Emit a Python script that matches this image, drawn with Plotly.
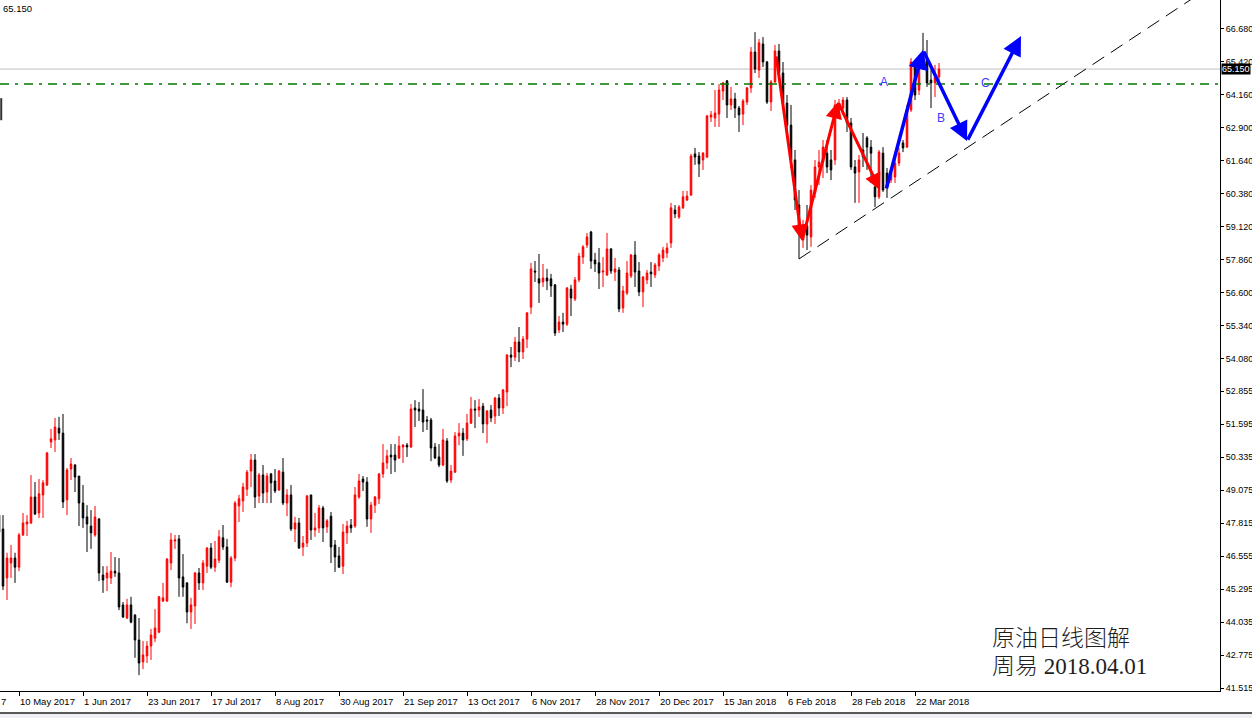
import pandas as pd
import plotly.graph_objects as go

# ---------------- data ----------------
dates = [d for d in pd.bdate_range("2017-05-03", "2018-03-30")
         if d.strftime("%m-%d") not in ("12-25", "01-01")]

opens = [48.12,47.59,45.72,46.29,46.48,46.13,47.36,47.78,47.82,48.81,48.20,48.89,49.27,50.91,50.99,51.44,51.25,48.70,49.88,50.03,
         49.61,48.58,48.05,47.70,47.36,47.97,45.83,45.72,45.72,45.98,45.91,44.69,44.19,44.69,44.30,43.35,42.51,42.74,43.12,43.42,
         43.65,44.84,44.84,46.29,47.13,47.21,45.76,45.53,44.42,44.65,45.91,45.53,46.17,46.86,46.13,46.40,47.25,46.90,45.56,46.48,
         48.47,48.66,49.11,49.80,50.22,48.85,49.65,49.00,49.69,49.42,49.08,49.76,48.58,48.89,47.59,47.82,46.90,47.05,48.89,47.55,
         47.63,48.39,47.67,48.08,46.98,46.56,46.17,47.44,47.74,47.70,48.81,49.50,49.38,47.97,48.50,48.74,49.69,50.11,50.41,50.41,
         50.30,50.72,50.79,50.72,52.21,52.17,52.13,51.75,51.75,50.72,50.34,50.03,50.95,49.46,49.76,51.14,51.25,51.03,51.63,52.17,
         52.13,52.28,51.60,52.13,51.90,52.59,52.21,52.82,54.23,54.15,54.73,54.35,54.84,56.06,57.44,57.14,57.02,57.17,57.14,56.91,
         55.19,55.49,55.41,56.75,56.37,57.10,57.97,58.43,58.93,57.86,57.75,57.40,57.29,58.28,57.40,57.48,56.03,56.60,57.25,58.05,
         57.44,56.64,57.10,57.40,57.29,57.63,57.94,58.13,58.51,59.77,59.50,59.85,60.15,60.34,61.91,61.83,61.68,61.79,63.32,63.28,
         63.43,64.31,64.70,63.78,64.01,63.66,63.43,63.89,64.43,65.80,65.11,66.11,65.42,63.89,64.66,65.84,65.00,63.85,63.01,61.68,
         59.96,58.62,59.16,58.74,60.42,61.41,61.60,61.94,61.68,61.68,63.59,63.66,63.97,63.09,61.41,61.22,62.06,62.52,62.17,60.65,
         60.27,61.94,61.18,60.91,61.03,61.56,62.33,62.17,63.59,65.38,64.35,65.69,65.50,64.73,64.62,64.85]
highs = [48.23,48.12,46.68,46.98,46.68,47.44,48.20,48.12,49.65,49.38,49.50,49.46,50.53,51.41,51.83,51.87,51.98,49.92,50.30,50.07,
         49.61,49.27,48.50,48.31,48.47,48.01,46.17,46.17,46.71,46.52,46.48,44.80,44.92,45.00,44.34,44.19,43.31,43.31,43.77,44.53,
         45.03,45.53,46.48,47.44,47.36,47.36,46.63,45.56,44.96,45.95,46.10,46.40,46.90,47.05,47.13,47.55,47.74,47.21,46.56,48.66,
         48.89,49.35,49.84,50.45,50.45,49.73,50.03,49.73,49.73,49.88,49.84,50.30,49.11,49.27,48.05,48.01,47.32,48.89,48.89,48.20,
         48.50,48.47,47.97,48.24,47.17,46.90,47.78,47.90,47.97,49.19,49.69,49.61,49.57,48.62,48.85,49.73,50.83,50.61,50.83,50.83,
         51.14,50.83,50.87,52.36,52.51,52.44,52.93,51.90,51.83,50.87,50.83,51.41,51.06,50.03,51.29,51.63,51.44,51.98,52.63,52.51,
         52.55,52.40,52.13,52.32,52.63,52.74,52.93,54.27,54.54,54.92,55.30,54.96,55.87,57.75,57.82,58.09,57.71,57.52,57.33,56.94,
         55.72,55.84,56.83,56.91,57.21,58.13,58.43,58.89,58.97,58.13,58.32,57.97,58.89,58.32,57.94,57.59,56.87,57.82,58.09,58.58,
         57.78,57.25,57.48,57.78,57.75,58.13,58.36,58.51,60.04,59.96,59.96,60.50,60.50,61.91,62.14,61.98,61.98,63.40,63.55,64.35,
         64.58,64.66,64.73,64.47,64.24,63.74,64.01,64.47,65.99,66.56,66.30,66.37,65.46,64.73,66.07,66.11,65.42,64.16,63.78,62.06,
         60.53,59.39,59.96,60.72,61.68,62.06,62.44,62.44,62.06,63.97,64.01,64.08,64.08,63.28,61.68,61.87,62.71,62.59,62.44,61.03,
         62.06,62.17,61.37,61.37,61.75,62.14,62.44,63.78,65.57,65.50,65.69,66.53,66.26,65.11,65.31,65.38]
lows = [47.36,45.26,44.88,45.72,45.53,45.98,47.32,47.32,47.78,48.12,48.01,48.01,49.23,50.68,50.53,50.99,48.39,48.12,49.46,49.00,
        47.70,47.63,46.71,46.83,47.29,45.60,45.15,45.22,45.49,45.76,44.49,44.19,44.15,43.99,42.67,42.01,42.24,42.47,42.59,43.27,
        43.61,44.80,44.80,46.02,46.83,45.00,45.00,43.99,43.77,43.96,45.26,45.26,45.91,46.06,45.95,46.29,46.79,45.53,45.37,46.36,
        47.86,48.24,48.85,49.19,48.39,48.58,48.58,48.58,48.58,48.96,49.04,48.50,48.08,47.51,47.09,46.83,46.56,46.90,47.17,47.29,
        47.44,47.09,47.44,46.29,45.95,46.10,45.87,47.02,47.44,47.63,48.74,49.04,47.67,47.44,48.20,48.54,49.54,49.88,49.69,49.76,
        50.26,50.11,50.34,50.68,51.48,51.71,51.29,51.37,50.18,50.26,49.95,49.99,49.35,49.35,49.73,50.79,50.38,50.95,51.60,51.44,
        51.87,51.25,50.87,51.67,51.60,51.90,51.98,52.28,53.77,54.00,53.96,54.08,54.50,55.80,57.02,56.22,56.83,56.71,56.45,54.96,
        55.07,55.11,55.34,55.72,56.29,57.02,57.71,58.32,57.52,57.40,56.75,56.83,57.25,57.33,57.06,55.87,55.84,56.52,57.17,56.83,
        56.48,56.06,56.94,56.83,57.17,57.44,57.78,57.94,58.32,59.46,59.43,59.81,60.11,60.30,61.49,61.03,61.30,61.75,63.13,62.94,
        62.94,63.97,63.28,63.59,63.28,62.75,63.01,63.78,64.24,65.00,64.81,65.23,63.82,63.55,64.62,64.81,63.59,62.82,61.37,59.77,
        57.90,58.32,58.24,58.36,60.23,60.72,60.99,61.18,60.91,61.49,63.28,63.40,62.75,61.30,60.04,60.04,61.41,61.30,60.80,59.88,
        60.19,60.46,60.23,60.80,60.80,61.45,61.98,62.14,63.51,63.97,64.16,65.11,64.47,63.66,64.08,64.62]
closes = [47.47,45.41,46.48,46.48,46.13,47.36,47.82,47.86,48.81,48.16,48.93,49.35,50.49,51.03,51.48,51.25,48.62,49.84,50.07,49.57,
          48.58,48.01,47.78,47.44,48.05,45.91,45.64,45.91,45.98,45.91,44.61,44.23,44.69,44.03,43.35,42.47,42.78,43.12,43.54,43.81,
          45.00,44.96,46.44,47.17,47.17,45.72,45.37,44.42,44.69,45.91,45.53,46.29,46.86,46.13,46.44,47.29,46.90,45.56,46.48,48.58,
          48.74,49.19,49.76,50.22,48.81,49.65,48.96,49.61,49.35,49.04,49.80,48.58,48.89,47.59,47.82,46.86,47.05,48.85,47.55,47.63,
          48.39,47.63,47.90,46.90,46.52,46.13,47.47,47.70,47.63,48.89,49.42,49.38,47.97,48.50,48.81,49.69,50.11,50.38,50.34,50.22,
          50.76,50.79,50.72,52.17,52.13,52.09,51.67,51.71,50.68,50.30,50.03,50.99,49.42,49.80,51.14,51.25,50.99,51.63,52.17,52.13,
          52.25,51.60,52.09,51.83,52.59,52.21,52.90,54.23,54.15,54.73,54.35,54.84,55.84,57.52,57.40,56.98,57.17,57.06,56.87,55.07,
          55.49,55.41,56.79,56.41,57.10,58.01,58.36,58.74,57.82,57.71,57.36,57.44,58.28,57.44,57.52,55.99,56.68,57.36,58.05,57.40,
          56.64,57.21,57.36,57.33,57.67,58.05,58.24,58.32,59.85,59.62,59.88,60.27,60.30,61.83,61.79,61.53,61.94,63.36,63.40,63.47,
          64.35,64.62,63.78,64.01,63.66,63.40,63.93,64.43,65.80,65.15,66.15,65.42,63.89,64.66,65.84,65.00,63.85,63.01,61.68,60.15,
          58.89,59.08,58.81,60.53,61.41,61.60,62.17,61.41,61.30,63.78,63.85,63.97,63.09,61.41,61.18,61.68,61.79,62.17,61.94,60.27,
          61.98,60.53,60.65,61.18,61.56,61.94,62.14,63.59,65.42,64.16,65.50,65.31,64.62,64.62,64.85,65.15]

date_labels = ["10 May 2017", "1 Jun 2017", "23 Jun 2017", "17 Jul 2017", "8 Aug 2017", "30 Aug 2017",
               "21 Sep 2017", "13 Oct 2017", "6 Nov 2017", "28 Nov 2017", "20 Dec 2017", "15 Jan 2018",
               "6 Feb 2018", "28 Feb 2018", "22 Mar 2018"]
price_ticks = ["66.680", "65.420", "64.160", "62.900", "61.640", "60.380", "59.120", "57.860", "56.600",
               "55.340", "54.080", "52.855", "51.595", "50.335", "49.075", "47.815", "46.555", "45.295",
               "44.035", "42.775", "41.515"]

current_price = 65.15
level_price = 64.58

# hand-drawn objects (bar position, price)
trend_x = [200, 300]
trend_y = [57.90, 68.01]
red_path_x = [194.25, 200.75, 209.75, 220.25]
red_path_y = [65.69, 58.59, 63.89, 60.53]
blue_path_x = [221.75, 231.0, 242.0, 255.5]
blue_path_y = [60.53, 65.88, 62.40, 66.41]
wave_labels = ["A", "B", "C"]
wave_label_x = [221.25, 235.6, 246.5]
wave_label_y = [64.66, 63.29, 64.62]

# ---------------- figure ----------------
n = min(len(dates), len(opens))
xs = list(range(n))
date_index = {d.normalize(): i for i, d in enumerate(dates)}

fig = go.Figure()
fig.add_trace(go.Candlestick(
    x=xs, open=opens[:n], high=highs[:n], low=lows[:n], close=closes[:n],
    increasing=dict(line=dict(color="#ff0000", width=1), fillcolor="#ff0000"),
    decreasing=dict(line=dict(color="#000000", width=1), fillcolor="#000000"),
    whiskerwidth=0, showlegend=False, hoverinfo="skip"))

fig.add_trace(go.Scatter(x=trend_x, y=trend_y, mode="lines",
                         line=dict(color="black", width=1, dash="14px,8px"),
                         showlegend=False, hoverinfo="skip"))

shapes = [
    dict(type="line", xref="paper", x0=0, x1=1, yref="y", y0=current_price, y1=current_price,
         line=dict(color="#c0c0c0", width=1), layer="below"),
    dict(type="line", xref="paper", x0=0, x1=1, yref="y", y0=level_price, y1=level_price,
         line=dict(color="#007a00", width=1.3, dash="9px,6px,3px,6px")),
    dict(type="line", xref="paper", x0=0.001, x1=0.001, yref="paper", y0=0.826, y1=0.858,
         line=dict(color="#333333", width=2)),
    dict(type="rect", xref="paper", x0=-0.01, x1=1.03, yref="paper", y0=-0.045, y1=-0.0325,
         fillcolor="#eef0f4", line=dict(width=0)),
    dict(type="line", xref="paper", x0=0, x1=1.03, yref="paper", y0=-0.0318, y1=-0.0318,
         line=dict(color="#222222", width=1.5)),
]

annotations = []
tick_idx = []
for lab in date_labels:
    i = date_index.get(pd.Timestamp(lab).normalize())
    tick_idx.append(i)
    annotations.append(dict(x=i, xref="x", y=0, yref="paper", text=lab, showarrow=False,
                            xanchor="left", yanchor="top", xshift=-1, yshift=-3,
                            font=dict(family="Liberation Sans, Arial", size=9.5, color="black")))
annotations.append(dict(x=0, xref="paper", y=0, yref="paper", text="7", showarrow=False,
                        xanchor="left", yanchor="top", xshift=-1, yshift=-3,
                        font=dict(family="Liberation Sans, Arial", size=9.5, color="black")))


def add_path(px, py, color, width):
    for k in range(len(px) - 1):
        annotations.append(dict(x=px[k + 1], y=py[k + 1], ax=px[k], ay=py[k],
                                xref="x", yref="y", axref="x", ayref="y", text="",
                                showarrow=True, arrowhead=2, arrowsize=1.1, arrowwidth=width,
                                arrowcolor=color, standoff=0, startstandoff=0))


add_path(red_path_x, red_path_y, "#ff0000", 3)
add_path(blue_path_x, blue_path_y, "#0000ff", 3.5)

for t, x, y in zip(wave_labels, wave_label_x, wave_label_y):
    annotations.append(dict(x=x, y=y, xref="x", yref="y", text=t, showarrow=False,
                            font=dict(family="Liberation Sans, Arial", size=12, color="#3b3bff")))

annotations += [
    dict(x=0, xref="paper", y=1, yref="paper", text="65.150", showarrow=False,
         xanchor="left", yanchor="top", xshift=1, yshift=-1,
         font=dict(family="Liberation Sans, Arial", size=9.5, color="black")),
    dict(x=1, xref="paper", y=current_price, yref="y", text="65.150", showarrow=False,
         xanchor="left", yanchor="middle", xshift=1, bgcolor="black", borderpad=0,
         font=dict(family="Liberation Sans, Arial", size=9, color="white")),
    dict(x=990 / 1220, xref="paper", y=1 - 636 / 691, yref="paper", text="原油日线图解",
         showarrow=False, xanchor="left", yanchor="middle",
         font=dict(family="Noto Sans CJK SC", size=23, color="#1e1e1e", weight=300)),
    dict(x=990 / 1220, xref="paper", y=1 - 666 / 691, yref="paper", text="周易 2018.04.01",
         showarrow=False, xanchor="left", yanchor="middle",
         font=dict(family="Liberation Serif, Noto Sans CJK SC", size=23, color="#1e1e1e", weight=300)),
]

fig.update_layout(
    width=1252, height=718, autosize=False,
    margin=dict(l=0, r=32, t=0, b=27, pad=0),
    paper_bgcolor="white", plot_bgcolor="white",
    boxgap=0.45,
    shapes=shapes, annotations=annotations,
    showlegend=False,
    xaxis=dict(range=[0.25, 305.25], rangeslider=dict(visible=False), showgrid=False, zeroline=False,
               showline=True, linecolor="black", linewidth=1, ticks="outside", ticklen=4,
               tickcolor="black", tickvals=tick_idx, showticklabels=False, fixedrange=True),
    yaxis=dict(range=[41.403, 67.787], side="right", showgrid=False, zeroline=False,
               showline=True, linecolor="black", linewidth=1, ticks="outside", ticklen=3,
               tickcolor="black", tickvals=[float(v) for v in price_ticks], ticktext=price_ticks,
               tickfont=dict(family="Liberation Sans, Arial", size=9, color="black"),
               fixedrange=True),
)

fig.write_html("out.html",
               config={"displayModeBar": False, "staticPlot": True},
               post_script="document.body.style.margin='0';document.body.style.padding='0';"
                           "document.body.style.overflow='hidden';")
